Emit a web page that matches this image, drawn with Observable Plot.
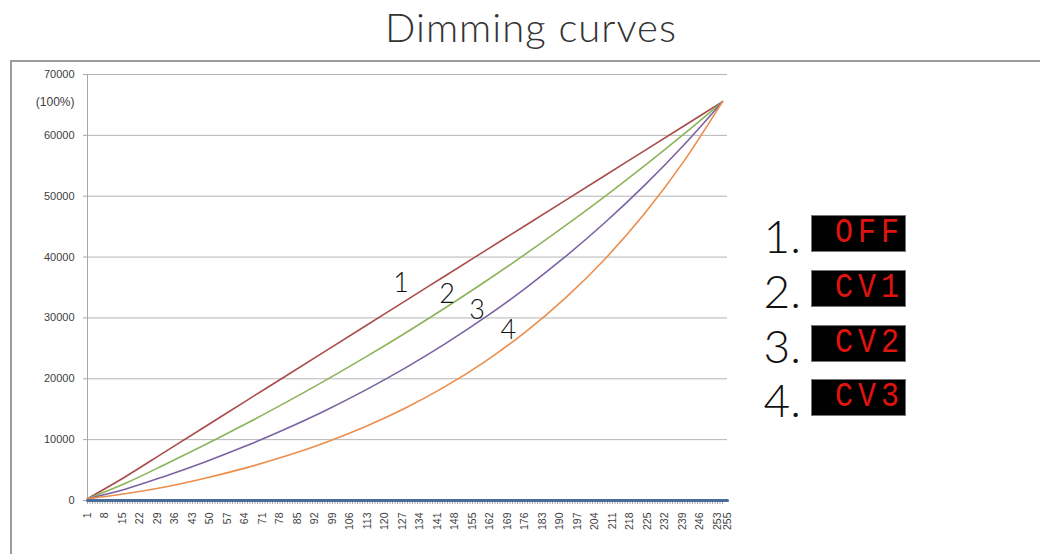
<!DOCTYPE html>
<html>
<head>
<meta charset="utf-8">
<script src="https://cdn.jsdelivr.net/npm/d3@7"></script>
<script src="https://cdn.jsdelivr.net/npm/@observablehq/plot@0.6"></script>
<style>
  html, body { margin: 0; padding: 0; background: #fff; }
  body { width: 1040px; height: 554px; overflow: hidden; position: relative; font-family: Lato, "Open Sans", sans-serif; }
  #title { position: absolute; left: 0; width: 1062px; top: 3px; text-align: center; font-size: 40px; letter-spacing: 1px; color: #333; font-weight: 300; }
  #frame { position: absolute; left: 10px; top: 60px; width: 1100px; height: 600px; border: 2px solid #9c9c9c; box-sizing: border-box; }
  #chart { position: absolute; left: 0; top: 62px; }
  .num { position: absolute; left: 700px; width: 101px; text-align: right; font-size: 46px; line-height: 46px; color: #111; font-weight: 300; }
  .box { position: absolute; left: 811px; width: 95px; height: 37px; background: #000; border: 1px solid #777; box-sizing: border-box;
         color: #e0140f; font-family: "Liberation Mono", "DejaVu Sans Mono", monospace; font-size: 30px; line-height: 35px; text-align: right; padding-right: 1px; letter-spacing: 5px; }
  .box span { display: inline-block; line-height: 30px; transform: scaleY(1.15); }
</style>
</head>
<body>
<div id="title">Dimming curves</div>
<div id="frame"></div>
<div id="chart"></div>
<div id="legend"></div>
<script>
// Data
const categories = [1, 16, 32, 48, 64, 80, 96, 112, 128, 144, 160, 176, 192, 208, 224, 240, 255];
const curve1 = [300, 3870, 7999, 12127, 16254, 20383, 24511, 28639, 32768, 36895, 41023, 45152, 49280, 53408, 57537, 61665, 65535];
const curve2 = [300, 2802, 5910, 9149, 12523, 16038, 19701, 23516, 27489, 31632, 35946, 40439, 45119, 49986, 55067, 60365, 65535];
const curve3 = [300, 1849, 3997, 6343, 8905, 11704, 14762, 18099, 21745, 25732, 30077, 34828, 40017, 45682, 51871, 58633, 65535];
const curve4 = [300, 1100, 2225, 3656, 5320, 7255, 9506, 12124, 15170, 18714, 22834, 27628, 33203, 39693, 47232, 56007, 65535];
const baseline = [0, 0];
const baselineX = [1, 257];

const yTicks = [0, 10000, 20000, 30000, 40000, 50000, 60000, 70000];
const xTickLabels = [1, 8, 15, 22, 29, 36, 43, 50, 57, 64, 71, 78, 85, 92, 99, 106, 113, 120, 127, 134, 141, 148, 155, 162, 169, 176, 183, 190, 197, 204, 211, 218, 225, 232, 239, 246, 253];
const xLastLabel = ["255"];
const xMinorTicks = d3.range(1, 256);

const curveNames = ["1", "2", "3", "4"];
const curveLabelX = [126.4, 144.8, 156.8, 169.3];
const curveLabelY = [35600, 33950, 31220, 27930];

const legendNums = ["1.", "2.", "3.", "4."];
const legendModes = ["OFF", "CV1", "CV2", "CV3"];

const colors = ["#a94c4a", "#8db35a", "#7b62a3", "#ec8d4b"];
const series = [curve1, curve2, curve3, curve4];

const lineMarks = series.map((vals, k) =>
  Plot.line(categories, {x: d => d, y: (d, i) => vals[i], stroke: colors[k], strokeWidth: 1.6, curve: "monotone-x"})
);

const chart = Plot.plot({
  width: 1040,
  height: 492,
  marginLeft: 87,
  marginRight: 313,
  marginTop: 12,
  marginBottom: 54,
  x: {domain: [1, 257]},
  y: {domain: [0, 70000]},
  style: {background: "transparent", fontFamily: "'Liberation Sans', Arial, sans-serif", overflow: "visible"},
  marks: [
    Plot.gridY(yTicks, {stroke: "#b5b5b5", strokeOpacity: 1}),
    Plot.axisY(yTicks, {tickSize: 4, tickPadding: 9, tickFormat: d3.format("d"), fontSize: 11, fill: "#404040", stroke: "#a8a8a8", label: null}),
    Plot.ruleX([1], {stroke: "#a8a8a8"}),
    Plot.axisX(xMinorTicks, {tickSize: 4, tickFormat: () => "", stroke: "#a8a8a8", label: null}),
    Plot.axisX(xTickLabels, {tickSize: 0, tickPadding: 12, tickRotate: -90, fontSize: 10.5, fill: "#404040", label: null}),
    Plot.text(xLastLabel, {frameAnchor: "bottom-right", dy: 12, rotate: -90, textAnchor: "end", lineAnchor: "middle", fontSize: 10.5, fill: "#404040"}),
    ...lineMarks,
    Plot.line(baselineX, {x: d => d, y: (d, i) => baseline[i], stroke: "#4a6c9b", strokeWidth: 3}),
    Plot.text(["(100%)"], {frameAnchor: "top-left", dx: -13, dy: 23, textAnchor: "end", fontSize: 12, fill: "#404040"}),
    Plot.text(curveNames, {x: (d, i) => curveLabelX[i], y: (d, i) => curveLabelY[i], text: d => d, fontSize: 27, fontFamily: "Lato, 'Open Sans', sans-serif", fontWeight: 300, fill: "#111"})
  ]
});
document.getElementById("chart").appendChild(chart);

const legend = document.getElementById("legend");
const rowTops = [215, 270, 325, 379];
legendNums.forEach((n, i) => {
  const num = document.createElement("div");
  num.className = "num";
  num.style.top = (rowTops[i] - 2) + "px";
  num.textContent = n;
  legend.appendChild(num);
  const box = document.createElement("div");
  box.className = "box";
  box.style.top = rowTops[i] + "px";
  const span = document.createElement("span");
  span.textContent = legendModes[i];
  box.appendChild(span);
  legend.appendChild(box);
});
</script>
</body>
</html>
